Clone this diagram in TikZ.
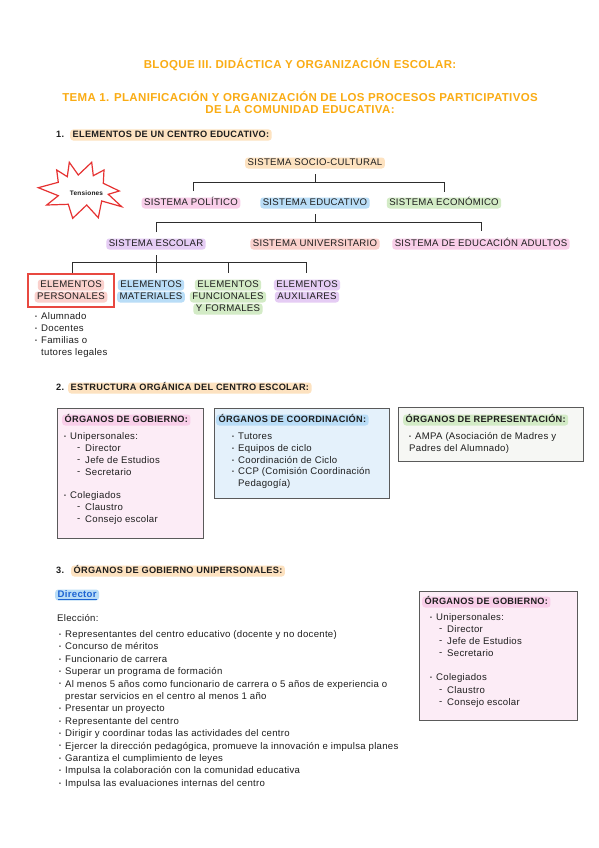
\documentclass[tikz,border=0pt]{standalone}
\usepackage{fontspec}
\setmainfont{Liberation Sans}[LetterSpace=3]
\definecolor{ink}{RGB}{30,30,30}
\definecolor{orangeT}{RGB}{250,172,20}
\definecolor{hPeach}{RGB}{253,226,192}
\definecolor{hPink}{RGB}{249,206,233}
\definecolor{hBlue}{RGB}{185,221,247}
\definecolor{hGreen}{RGB}{211,235,198}
\definecolor{hLav}{RGB}{229,204,244}
\definecolor{hSalmon}{RGB}{250,208,204}
\definecolor{fPink}{RGB}{252,236,246}
\definecolor{fBlue}{RGB}{228,241,251}
\definecolor{fGray}{RGB}{246,247,244}
\definecolor{boxline}{RGB}{90,90,90}
\definecolor{linec}{RGB}{45,45,45}
\definecolor{redB}{RGB}{232,72,64}
\definecolor{starR}{RGB}{230,50,50}
\definecolor{linkB}{RGB}{30,100,210}
\newcommand\bul{\makebox[6pt][l]{\raisebox{1.3pt}{\fontsize{5.5}{5.5}\selectfont •}}}
\newcommand\dsh{\makebox[8pt][l]{\raisebox{1pt}{-}}}
\begin{document}
\begin{tikzpicture}[x=1pt,y=-1pt,
  every node/.style={inner sep=0pt},
  lbl/.style={font=\fontsize{9.6}{11}\selectfont, text height=7pt, text depth=2pt, text=ink},
  lft/.style={lbl, anchor=west},
  bld/.style={font=\bfseries\fontsize{9.2}{11}\selectfont},
  ttl/.style={font=\bfseries\fontsize{11.5}{13}\selectfont, text=orangeT},
  hl/.style={fill=#1, rounded corners=3pt, inner xsep=2.5pt, inner ysep=1pt},
  conn/.style={line width=1pt, draw=linec},
  boxst/.style={draw=boxline, line width=0.9pt, fill=#1},
]
\useasboundingbox[fill=white] (0,0) rectangle (599,848);

% titles
\node[ttl] (t1) at (300,65) {BLOQUE III. DIDÁCTICA Y ORGANIZACIÓN ESCOLAR:};
\node[ttl] (t2) at (300,96) {TEMA 1. PLANIFICACIÓN Y ORGANIZACIÓN DE LOS PROCESOS PARTICIPATIVOS};
\node[ttl] (t3) at (300,110) {DE LA COMUNIDAD EDUCATIVA:};

% section 1
\node[lft,bld] (n1) at (56,135) {1.};
\node[lft,bld,hl=hPeach] (s1) at (70,135) {ELEMENTOS DE UN CENTRO EDUCATIVO:};

% star
\draw[draw=starR, line width=1.2pt, fill=white, line join=miter]
 (38.3,187.7) -- (58.3,182.3) -- (56.7,170) -- (67.3,176.7) -- (69.3,162.3) -- (78.3,175)
 -- (91.7,162.3) -- (93.3,175.7) -- (104,170) -- (103.3,183.3) -- (119.3,191) -- (108.3,194.3)
 -- (121.7,206.7) -- (101.7,201) -- (98.3,217.7) -- (86.7,205) -- (72.7,218.3) -- (68.3,204.3)
 -- (46.7,205) -- (58.3,195.7) -- cycle;
\node[font=\bfseries\fontsize{6.5}{7}\selectfont, text=ink] (tens) at (86.5,193.5) {Tensiones};

% tree labels
\node[lbl,hl=hPeach] (soc) at (315,163) {SISTEMA SOCIO-CULTURAL};
\node[lbl,hl=hPink] (pol) at (191,203) {SISTEMA POLÍTICO};
\node[lbl,hl=hBlue] (edu) at (315,203) {SISTEMA EDUCATIVO};
\node[lbl,hl=hGreen] (eco) at (444,203) {SISTEMA ECONÓMICO};
\node[lbl,hl=hLav] (esc) at (156,244) {SISTEMA ESCOLAR};
\node[lbl,hl=hSalmon] (uni) at (315,244) {SISTEMA UNIVERSITARIO};
\node[lbl,hl=hPink] (adu) at (481,244) {SISTEMA DE EDUCACIÓN ADULTOS};

\node[draw=redB, line width=1.3pt, minimum width=86pt, minimum height=33pt] (epbox) at (71,290.5) {};
\node[lbl,hl=hSalmon] (ep1) at (71,285) {ELEMENTOS};
\node[lbl,hl=hSalmon] (ep2) at (71,297) {PERSONALES};
\node[lbl,hl=hBlue] (em1) at (151,285) {ELEMENTOS};
\node[lbl,hl=hBlue] (em2) at (151,297) {MATERIALES};
\node[lbl,hl=hGreen] (ef1) at (228,285) {ELEMENTOS};
\node[lbl,hl=hGreen] (ef2) at (228,297) {FUNCIONALES};
\node[lbl,hl=hGreen] (ef3) at (228,309) {Y FORMALES};
\node[lbl,hl=hLav] (ea1) at (307,285) {ELEMENTOS};
\node[lbl,hl=hLav] (ea2) at (307,297) {AUXILIARES};

% connectors
\coordinate (a0) at (315,174); \coordinate (a1) at (315,182);
\coordinate (aL) at (193,182); \coordinate (aLd) at (193,191);
\coordinate (aR) at (444,182); \coordinate (aRd) at (444,192);
\draw[conn] (aLd) -- (aL) -- (aR) -- (aRd);
\draw[conn] (a0) -- (a1);
\coordinate (b0) at (315,214); \coordinate (b1) at (315,222);
\coordinate (bL) at (156,222); \coordinate (bLd) at (156,232);
\coordinate (bR) at (481,222); \coordinate (bRd) at (481,231);
\draw[conn] (bLd) -- (bL) -- (bR) -- (bRd);
\draw[conn] (b0) -- (b1);
\coordinate (c0) at (156,255); \coordinate (c1) at (156,273);
\coordinate (cL) at (72,262); \coordinate (cLd) at (72,273);
\coordinate (cM) at (228,262); \coordinate (cMd) at (228,273);
\coordinate (cR) at (306,262); \coordinate (cRd) at (306,273);
\draw[conn] (cLd) -- (cL) -- (cR) -- (cRd);
\draw[conn] (c0) -- (c1);
\draw[conn] (cM) -- (cMd);

\node[lft] (al1) at (35,317) {\bul Alumnado};
\node[lft] (al2) at (35,329) {\bul Docentes};
\node[lft] (al3) at (35,341) {\bul Familias o};
\node[lft] (al4) at (41,353) {tutores legales};

% section 2
\node[lft,bld] (n2) at (56,388) {2.};
\node[lft,bld,hl=hPeach] (s2) at (68,388) {ESTRUCTURA ORGÁNICA DEL CENTRO ESCOLAR:};

\node[boxst=fPink, minimum width=146pt, minimum height=130pt] (gob) at (130,473) {};
\node[boxst=fBlue, minimum width=175pt, minimum height=90pt] (coo) at (301.5,453) {};
\node[boxst=fGray, minimum width=185pt, minimum height=54pt] (rep) at (490.5,434) {};

\node[lft,bld,hl=hPink] (g0) at (62,420) {ÓRGANOS DE GOBIERNO:};
\node[lft] (g1) at (64,437) {\bul Unipersonales:};
\node[lft] (g2) at (77,449) {\dsh Director};
\node[lft] (g3) at (77,461) {\dsh Jefe de Estudios};
\node[lft] (g4) at (77,473) {\dsh Secretario};
\node[lft] (g5) at (64,496) {\bul Colegiados};
\node[lft] (g6) at (77,508) {\dsh Claustro};
\node[lft] (g7) at (77,520) {\dsh Consejo escolar};

\node[lft,bld,hl=hBlue] (k0) at (216,420) {ÓRGANOS DE COORDINACIÓN:};
\node[lft] (k1) at (232,437) {\bul Tutores};
\node[lft] (k2) at (232,449) {\bul Equipos de ciclo};
\node[lft] (k3) at (232,461) {\bul Coordinación de Ciclo};
\node[lft] (k4) at (232,472) {\bul CCP (Comisión Coordinación};
\node[lft] (k5) at (238,484) {Pedagogía)};

\node[lft,bld,hl=hGreen] (r0) at (403,420) {ÓRGANOS DE REPRESENTACIÓN:};
\node[lft] (r1) at (409,437) {\bul AMPA (Asociación de Madres y};
\node[lft] (r2) at (409,449) {Padres del Alumnado)};

% section 3
\node[lft,bld] (n3) at (56,571) {3.};
\node[lft,bld,hl=hPeach] (s3) at (71,571) {ÓRGANOS DE GOBIERNO UNIPERSONALES:};
\node[lft,hl=hBlue,font=\bfseries\fontsize{9.6}{11}\selectfont,text=linkB] (dir) at (55,595) {\underline{Director}};
\node[lft] (elec) at (57,619) {Elección:};

\node[lft] (d1) at (59,635) {\bul Representantes del centro educativo (docente y no docente)};
\node[lft] (d2) at (59,647.4) {\bul Concurso de méritos};
\node[lft] (d3) at (59,659.8) {\bul Funcionario de carrera};
\node[lft] (d4) at (59,672.2) {\bul Superar un programa de formación};
\node[lft] (d5) at (59,684.6) {\bul Al menos 5 años como funcionario de carrera o 5 años de experiencia o};
\node[lft] (d5b) at (65,697) {prestar servicios en el centro al menos 1 año};
\node[lft] (d6) at (59,709.4) {\bul Presentar un proyecto};
\node[lft] (d7) at (59,721.8) {\bul Representante del centro};
\node[lft] (d8) at (59,734.2) {\bul Dirigir y coordinar todas las actividades del centro};
\node[lft] (d9) at (59,746.6) {\bul Ejercer la dirección pedagógica, promueve la innovación e impulsa planes};
\node[lft] (d10) at (59,759) {\bul Garantiza el cumplimiento de leyes};
\node[lft] (d11) at (59,771.4) {\bul Impulsa la colaboración con la comunidad educativa};
\node[lft] (d12) at (59,783.8) {\bul Impulsa las evaluaciones internas del centro};

\node[boxst=fPink, minimum width=158pt, minimum height=129pt] (gob2) at (498,655.5) {};
\node[lft,bld,hl=hPink] (h0) at (422,602) {ÓRGANOS DE GOBIERNO:};
\node[lft] (h1) at (430,618) {\bul Unipersonales:};
\node[lft] (h2) at (439,630) {\dsh Director};
\node[lft] (h3) at (439,642) {\dsh Jefe de Estudios};
\node[lft] (h4) at (439,654) {\dsh Secretario};
\node[lft] (h5) at (430,678) {\bul Colegiados};
\node[lft] (h6) at (439,691) {\dsh Claustro};
\node[lft] (h7) at (439,703) {\dsh Consejo escolar};
\end{tikzpicture}
\end{document}
